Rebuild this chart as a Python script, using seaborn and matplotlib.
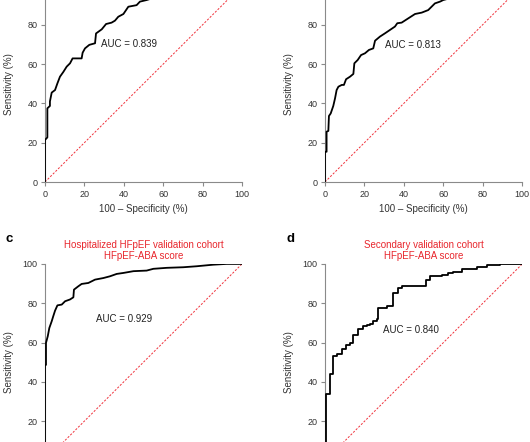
import pandas as pd
import matplotlib
matplotlib.use('Agg')
import matplotlib.pyplot as plt
import seaborn as sns

# ROC curve points (100 - specificity, sensitivity), in %
fpr_a = [0, 0, 1.2, 1.2, 2.5, 2.5, 3.4, 5.1, 6.3, 7.6, 9.3, 11.0, 12.7, 14.0, 18.6, 19.1,
         20.3, 22.5, 25.4, 25.9, 28.8, 31.0, 33.8, 35.5, 37.2, 39.8, 42.3, 46.5, 48.2,
         51.6, 56, 62, 70, 80, 90, 100]
tpr_a = [0, 21.4, 22.7, 37.5, 38.7, 41, 45.5, 46.8, 50.2, 53.6, 56, 58.7, 60.4, 62.9, 62.9,
         65.8, 68, 69.8, 70.6, 75.6, 77.7, 80.4, 81.1, 82.1, 84.1, 85.5, 89.2, 90, 91.8,
         92.6, 94, 95.5, 97, 98.5, 99.5, 100]

fpr_b = [0, 0, 0.8, 0.8, 1.7, 2.0, 2.9, 4.2, 5.1, 5.9, 6.8, 8.5, 9.6, 10.7, 12.7, 14.4,
         14.9, 16.6, 18.3, 20.3, 22.3, 24.5, 25.4, 27.9, 30.5, 33.0, 35.5, 36.7, 38.9,
         42.3, 45.7, 49.1, 52.4, 54.1, 55.8, 58.4, 60, 66, 72, 80, 90, 100]
tpr_b = [0, 15.4, 15.4, 25.6, 26, 33.6, 34.9, 38.7, 42.6, 46.8, 48.5, 49.4, 49.4, 52.3,
         53.6, 55, 60.4, 62.1, 64.6, 65.5, 67.2, 68, 71.9, 74, 75.7, 77.4, 79.1, 80.8,
         81.1, 83.3, 85.5, 86.2, 87.5, 89.2, 90.9, 91.8, 92.6, 94.2, 95.6, 97.3, 99, 100]

fpr_c = [0, 0, 0.5, 0.5, 1.4, 2.2, 3.4, 4.2, 5.1, 6.3, 8.5, 10.2, 12.7, 14.4, 14.7, 16.9,
         18.6, 22.0, 25.4, 29.6, 33.0, 36.4, 39.8, 44.9, 51.6, 55.0, 61.8, 70.2, 77.0,
         85.4, 92.2, 100]
tpr_c = [0, 48.6, 48.6, 59.8, 63.2, 67.4, 70.8, 73.4, 76.2, 78.9, 79.3, 81.0, 81.9, 83.0,
         86.9, 88.6, 89.8, 90.3, 92.0, 92.8, 93.7, 94.9, 95.4, 96.3, 96.6, 97.5, 98.0,
         98.3, 98.8, 99.6, 100, 100]

# panel d is a coarse staircase: (x of riser, sensitivity after riser)
fpr_d = [0, 0.4, 2.4, 4.1, 6.1, 8.3, 10.5, 12.5, 14.2, 16.8, 19.0, 21.0, 22.7, 24.4, 26.0,
         26.9, 31.2, 34.5, 36.8, 38.8, 51.0, 53.1, 59.1, 62.4, 65.0, 69.6, 76.9, 81.9,
         88.7, 100]
tpr_d = [0, 34, 43.9, 53.2, 54, 56.5, 58.9, 59.8, 64, 66.7, 68.4, 69.0, 69.6, 70.8, 72.1,
         77.5, 78.5, 85.1, 87.7, 89, 91.6, 93.8, 94.5, 95.5, 96.1, 97.5, 98.3, 99.2,
         100, 100]

auc_labels = ['AUC = 0.839', 'AUC = 0.813', 'AUC = 0.929', 'AUC = 0.840']
auc_pos = [(28.5, 70.2), (30.5, 69.7), (25.8, 71.9), (29.4, 66.5)]
titles = [None, None,
          'Hospitalized HFpEF validation cohort\nHFpEF-ABA score',
          'Secondary validation cohort\nHFpEF-ABA score']
letters = [None, None, 'c', 'd']
diag = [0, 100]
ticks = [0, 20, 40, 60, 80, 100]

sns.set_theme(style='ticks')
plt.rcParams['font.family'] = ['Liberation Sans', 'DejaVu Sans']

RED = '#e8262d'
GREY = '#8a8a8a'

fig = plt.figure(figsize=(5.3, 4.42), dpi=100)
W, H = 530, 442
# axes placed in pixel units; the picture is a crop, so some axes spill outside
boxes = [(45, 260), (325, 260), (45, -18.4), (325.3, -18.4)]
curves = [(fpr_a, tpr_a, None), (fpr_b, tpr_b, None),
          (fpr_c, tpr_c, None), (fpr_d, tpr_d, 'steps-post')]

for i, ((x0, y0), (fx, fy, ds)) in enumerate(zip(boxes, curves)):
    ax = fig.add_axes([x0 / W, y0 / H, 197 / W, 196.5 / H])
    df = pd.DataFrame({'fpr': fx, 'tpr': fy})
    kw = {'drawstyle': ds} if ds else {}
    sns.lineplot(data=df, x='fpr', y='tpr', ax=ax, color='black', linewidth=1.3,
                 sort=False, estimator=None, zorder=3, **kw)
    sns.lineplot(x=diag, y=diag, ax=ax, color='#f0323c', linewidth=0.7,
                 linestyle=(0, (2.2, 1.6)), zorder=2)
    ax.set_xlim(0, 100)
    ax.set_ylim(0, 100)
    ax.set_xticks(ticks)
    ax.set_yticks(ticks)
    ax.set_xlabel('100 \u2013 Specificity (%)', fontsize=7, color='#333333', labelpad=4)
    ax.set_ylabel('Sensitivity (%)', fontsize=7, color='#333333', labelpad=6)
    ax.tick_params(labelsize=6.5, colors=GREY, labelcolor='#333333', length=3,
                   width=0.8, pad=2.5)
    sns.despine(ax=ax)
    for s in ['left', 'bottom']:
        ax.spines[s].set_color(GREY)
        ax.spines[s].set_linewidth(0.8)
        ax.spines[s].set_clip_on(False)
    ax.text(auc_pos[i][0], auc_pos[i][1], auc_labels[i], fontsize=7,
            color='#222222', ha='left', va='center')
    if titles[i]:
        ax.set_title(titles[i], fontsize=7, color=RED, pad=3.5, linespacing=1.15)
    if letters[i]:
        fig.text((x0 - 40 if i == 2 else x0 - 38.5) / W, 1 - 239.3 / H, letters[i],
                 fontsize=9.5, fontweight='bold', color='black', va='center')

plt.savefig('out.png', dpi=100)
plt.close()
